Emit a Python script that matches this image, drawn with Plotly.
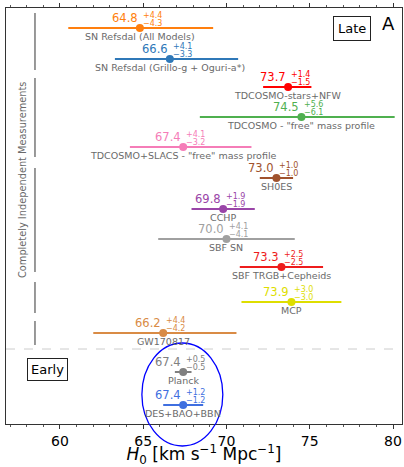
import plotly.graph_objects as go

# Measurements of the Hubble constant, top to bottom
names = [
    "SN Refsdal (All Models)",
    "SN Refsdal (Grillo-g + Oguri-a*)",
    "TDCOSMO-stars+NFW",
    'TDCOSMO - "free" mass profile',
    'TDCOSMO+SLACS - "free" mass profile',
    "SH0ES",
    "CCHP",
    "SBF SN",
    "SBF TRGB+Cepheids",
    "MCP",
    "GW170817",
    "Planck",
    "DES+BAO+BBN",
]
h0 = [64.8, 66.6, 73.7, 74.5, 67.4, 73.0, 69.8, 70.0, 73.3, 73.9, 66.2, 67.4, 67.4]
err_plus = [4.4, 4.1, 1.4, 5.6, 4.1, 1.0, 1.9, 4.1, 2.5, 3.0, 4.4, 0.5, 1.2]
err_minus = [4.3, 3.3, 1.5, 6.1, 3.2, 1.0, 1.9, 4.1, 2.5, 3.0, 4.2, 0.5, 1.2]
colors = [
    "#ff7f0e", "#2f78b8", "#ff0000", "#4fb04f", "#f57db8", "#a0522d",
    "#9a45a8", "#a0a0a0", "#ee1c1c", "#dede00", "#d98b45", "#808080", "#3f6fe0",
]
x_ticks = [60, 65, 70, 75, 80]

# Vertical placement of each row (units grow downward from the top of the frame)
row_pos = [20, 51, 79, 109, 139, 170, 201, 231, 259, 294, 325, 364, 397]
split_pos = 341
group_spans = [(5, 62), (70, 149), (160, 264), (274, 305), (313, 337)]

X_RANGE = [56.76, 80.54]
Y_SPAN = 416

FONT = "DejaVu Sans"
LABEL_GRAY = "#6a6a6a"

fig = go.Figure()

for name, val, ep, em, col, yp in zip(names, h0, err_plus, err_minus, colors, row_pos):
    fig.add_trace(go.Scatter(
        x=[val], y=[yp], mode="markers",
        marker=dict(color=col, size=8, line=dict(width=0)),
        error_x=dict(type="data", symmetric=False, array=[ep], arrayminus=[em],
                     color=col, thickness=2, width=0),
        showlegend=False, hoverinfo="skip",
    ))
    # central value, with the asymmetric errors stacked to its right
    fig.add_annotation(x=val, y=yp, text=f"{val:.1f}", showarrow=False,
                       xanchor="right", yanchor="middle", yshift=10,
                       font=dict(family=FONT, size=11.5, color=col))
    fig.add_annotation(x=val, y=yp, text=f"+{ep:.1f}", showarrow=False,
                       xanchor="left", yanchor="middle", xshift=1, yshift=13,
                       font=dict(family=FONT, size=8, color=col))
    fig.add_annotation(x=val, y=yp, text=f"\u2212{em:.1f}", showarrow=False,
                       xanchor="left", yanchor="middle", xshift=1, yshift=5,
                       font=dict(family=FONT, size=8, color=col))
    fig.add_annotation(x=val, y=yp, text=name, showarrow=False,
                       xanchor="center", yanchor="middle", yshift=-8,
                       font=dict(family=FONT, size=9.5, color=LABEL_GRAY))

# Late / Early separator
fig.add_shape(type="line", xref="paper", x0=0, x1=1, yref="y", y0=split_pos, y1=split_pos,
              line=dict(color="#cccccc", width=1, dash="dash"))

# Brackets grouping measurements that are not independent of each other
for y0, y1 in group_spans:
    fig.add_shape(type="line", xref="x", x0=58.5, x1=58.5, yref="y", y0=y0, y1=y1,
                  line=dict(color="#777777", width=1.5))

fig.add_annotation(x=57.72, y=172, text="Completely Independent Measurements",
                   textangle=-90, showarrow=False,
                   font=dict(family=FONT, size=9.8, color=LABEL_GRAY))

fig.add_annotation(x=77.51, y=20.5, text="Late", showarrow=False,
                   bordercolor="#222222", borderwidth=1, borderpad=4, bgcolor="white",
                   font=dict(family=FONT, size=13, color="black"))
fig.add_annotation(x=59.28, y=361.5, text="Early", showarrow=False,
                   bordercolor="#222222", borderwidth=1, borderpad=3, bgcolor="white",
                   font=dict(family=FONT, size=13, color="black"))
fig.add_annotation(x=79.70, y=15, text="A", showarrow=False,
                   font=dict(family=FONT, size=18, color="black"))


# Ellipse around the early-universe values (drawn in paper units so it may
# spill past the bottom of the frame)
def px(v):
    return (v - X_RANGE[0]) / (X_RANGE[1] - X_RANGE[0])


def py(v):
    return 1 - v / Y_SPAN


ell_cx, ell_rx = 67.35, 2.43
ell_top, ell_bot = 335, 438
fig.add_shape(type="circle", xref="paper", yref="paper",
              x0=px(ell_cx - ell_rx), x1=px(ell_cx + ell_rx),
              y0=py(ell_bot), y1=py(ell_top),
              line=dict(color="#0000ff", width=1.3))

fig.update_xaxes(
    range=X_RANGE, tickvals=x_ticks, ticktext=[str(t) for t in x_ticks],
    ticks="outside", ticklen=4, tickwidth=1, tickcolor="#333333",
    minor=dict(dtick=1, ticks="outside", ticklen=2, tickwidth=1, tickcolor="#555555"),
    showline=True, linecolor="#333333", linewidth=1, mirror="allticks",
    showgrid=False, zeroline=False,
    tickfont=dict(family=FONT, size=14, color="black"),
    title=dict(text="<i>H</i><sub>0</sub> [km s<sup>\u22121</sup> Mpc<sup>\u22121</sup>]",
               font=dict(family=FONT, size=17, color="black"), standoff=3),
)
fig.update_yaxes(
    range=[Y_SPAN, 0], showticklabels=False, ticks="", showgrid=False,
    zeroline=False, showline=True, linecolor="#333333", linewidth=1, mirror=True,
)

fig.update_layout(
    width=404, height=467,
    margin=dict(l=6, r=2, t=8, b=43),
    paper_bgcolor="white", plot_bgcolor="white",
    font=dict(family=FONT),
)

fig.write_html("out.html")
